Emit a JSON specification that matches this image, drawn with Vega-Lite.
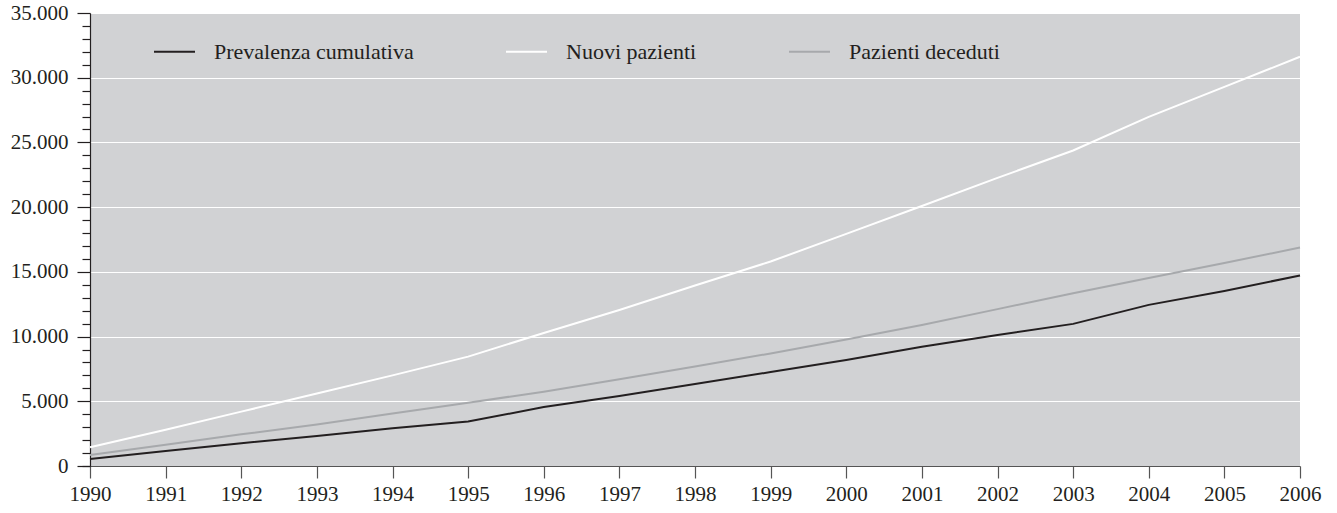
{
  "$schema": "https://vega.github.io/schema/vega-lite/v6.json",
  "width": 1210,
  "height": 453,
  "autosize": "none",
  "padding": {"left": 90, "top": 13, "right": 37, "bottom": 47},
  "background": "#ffffff",
  "config": {
    "view": {"fill": "#d1d2d4", "stroke": null},
    "font": "Liberation Serif",
    "axis": {"labelFont": "Liberation Serif", "labelColor": "#231f20", "labelFontSize": 21}
  },
  "data": {
    "values": [
      {"anno": 1990, "serie": "Prevalenza cumulativa", "valore": 550},
      {"anno": 1991, "serie": "Prevalenza cumulativa", "valore": 1150},
      {"anno": 1992, "serie": "Prevalenza cumulativa", "valore": 1760},
      {"anno": 1993, "serie": "Prevalenza cumulativa", "valore": 2320},
      {"anno": 1994, "serie": "Prevalenza cumulativa", "valore": 2920},
      {"anno": 1995, "serie": "Prevalenza cumulativa", "valore": 3440},
      {"anno": 1996, "serie": "Prevalenza cumulativa", "valore": 4550},
      {"anno": 1997, "serie": "Prevalenza cumulativa", "valore": 5400},
      {"anno": 1998, "serie": "Prevalenza cumulativa", "valore": 6340},
      {"anno": 1999, "serie": "Prevalenza cumulativa", "valore": 7260},
      {"anno": 2000, "serie": "Prevalenza cumulativa", "valore": 8190},
      {"anno": 2001, "serie": "Prevalenza cumulativa", "valore": 9210},
      {"anno": 2002, "serie": "Prevalenza cumulativa", "valore": 10120},
      {"anno": 2003, "serie": "Prevalenza cumulativa", "valore": 10980},
      {"anno": 2004, "serie": "Prevalenza cumulativa", "valore": 12450},
      {"anno": 2005, "serie": "Prevalenza cumulativa", "valore": 13520},
      {"anno": 2006, "serie": "Prevalenza cumulativa", "valore": 14720},
      {"anno": 1990, "serie": "Nuovi pazienti", "valore": 1450},
      {"anno": 1991, "serie": "Nuovi pazienti", "valore": 2800},
      {"anno": 1992, "serie": "Nuovi pazienti", "valore": 4200},
      {"anno": 1993, "serie": "Nuovi pazienti", "valore": 5600},
      {"anno": 1994, "serie": "Nuovi pazienti", "valore": 7000},
      {"anno": 1995, "serie": "Nuovi pazienti", "valore": 8450},
      {"anno": 1996, "serie": "Nuovi pazienti", "valore": 10280},
      {"anno": 1997, "serie": "Nuovi pazienti", "valore": 12050},
      {"anno": 1998, "serie": "Nuovi pazienti", "valore": 13950},
      {"anno": 1999, "serie": "Nuovi pazienti", "valore": 15800},
      {"anno": 2000, "serie": "Nuovi pazienti", "valore": 17930},
      {"anno": 2001, "serie": "Nuovi pazienti", "valore": 20090},
      {"anno": 2002, "serie": "Nuovi pazienti", "valore": 22260},
      {"anno": 2003, "serie": "Nuovi pazienti", "valore": 24380},
      {"anno": 2004, "serie": "Nuovi pazienti", "valore": 26970},
      {"anno": 2005, "serie": "Nuovi pazienti", "valore": 29290},
      {"anno": 2006, "serie": "Nuovi pazienti", "valore": 31620},
      {"anno": 1990, "serie": "Pazienti deceduti", "valore": 850},
      {"anno": 1991, "serie": "Pazienti deceduti", "valore": 1650},
      {"anno": 1992, "serie": "Pazienti deceduti", "valore": 2450},
      {"anno": 1993, "serie": "Pazienti deceduti", "valore": 3200},
      {"anno": 1994, "serie": "Pazienti deceduti", "valore": 4050},
      {"anno": 1995, "serie": "Pazienti deceduti", "valore": 4890},
      {"anno": 1996, "serie": "Pazienti deceduti", "valore": 5740},
      {"anno": 1997, "serie": "Pazienti deceduti", "valore": 6700},
      {"anno": 1998, "serie": "Pazienti deceduti", "valore": 7680},
      {"anno": 1999, "serie": "Pazienti deceduti", "valore": 8700},
      {"anno": 2000, "serie": "Pazienti deceduti", "valore": 9770},
      {"anno": 2001, "serie": "Pazienti deceduti", "valore": 10900},
      {"anno": 2002, "serie": "Pazienti deceduti", "valore": 12120},
      {"anno": 2003, "serie": "Pazienti deceduti", "valore": 13340},
      {"anno": 2004, "serie": "Pazienti deceduti", "valore": 14530},
      {"anno": 2005, "serie": "Pazienti deceduti", "valore": 15680},
      {"anno": 2006, "serie": "Pazienti deceduti", "valore": 16880}
    ]
  },
  "layer": [
    {
      "mark": {"type": "line", "strokeWidth": 0, "opacity": 0},
      "encoding": {
        "x": {"field": "anno", "type": "quantitative", "scale": {"domain": [1990, 2006], "nice": false, "zero": false}},
        "y": {
          "field": "valore", "type": "quantitative",
          "scale": {"domain": [0, 35000], "nice": false},
          "axis": {
            "orient": "left",
            "values": [0, 1000, 2000, 3000, 4000, 6000, 7000, 8000, 9000, 11000, 12000, 13000, 14000, 16000, 17000, 18000, 19000, 21000, 22000, 23000, 24000, 26000, 27000, 28000, 29000, 31000, 32000, 33000, 34000],
            "labels": false, "grid": false, "domain": false, "tickSize": 8, "tickColor": "#231f20", "tickWidth": 1.2, "title": null
          }
        }
      }
    },
    {
      "mark": {"type": "line", "strokeWidth": 2, "interpolate": "linear"},
      "encoding": {
        "x": {
          "field": "anno", "type": "quantitative",
          "scale": {"domain": [1990, 2006], "nice": false, "zero": false},
          "axis": {
            "values": [1990, 1991, 1992, 1993, 1994, 1995, 1996, 1997, 1998, 1999, 2000, 2001, 2002, 2003, 2004, 2005, 2006],
            "format": "d", "grid": false, "tickSize": 12, "tickColor": "#555555", "tickWidth": 1.2,
            "domainColor": "#555555", "domainWidth": 1.2, "labelPadding": 5, "title": null, "labelFlush": false
          }
        },
        "y": {
          "field": "valore", "type": "quantitative",
          "scale": {"domain": [0, 35000], "nice": false},
          "axis": {
            "orient": "left",
            "values": [0, 5000, 10000, 15000, 20000, 25000, 30000, 35000],
            "labelExpr": "replace(format(datum.value, ','), ',', '.')",
            "grid": true, "gridColor": "#ffffff", "gridWidth": 1.2,
            "tickSize": 13, "tickColor": "#231f20", "tickWidth": 1.2,
            "domainColor": "#231f20", "domainWidth": 1.2,
            "labelPadding": 9, "title": null
          }
        },
        "color": {
          "field": "serie", "type": "nominal",
          "scale": {"domain": ["Prevalenza cumulativa", "Nuovi pazienti", "Pazienti deceduti"], "range": ["#231f20", "#ffffff", "#a7a9ac"]},
          "legend": {
            "orient": "none", "legendX": 63, "legendY": 17, "direction": "horizontal", "columns": 3,
            "title": null, "symbolType": "stroke", "symbolSize": 1681, "symbolStrokeWidth": 2,
            "labelFont": "Liberation Serif", "labelFontSize": 22, "labelColor": "#231f20", "labelOffset": 18,
            "columnPadding": 88, "labelLimit": 400
          }
        }
      }
    }
  ],
  "resolve": {"axis": {"y": "independent"}}
}
